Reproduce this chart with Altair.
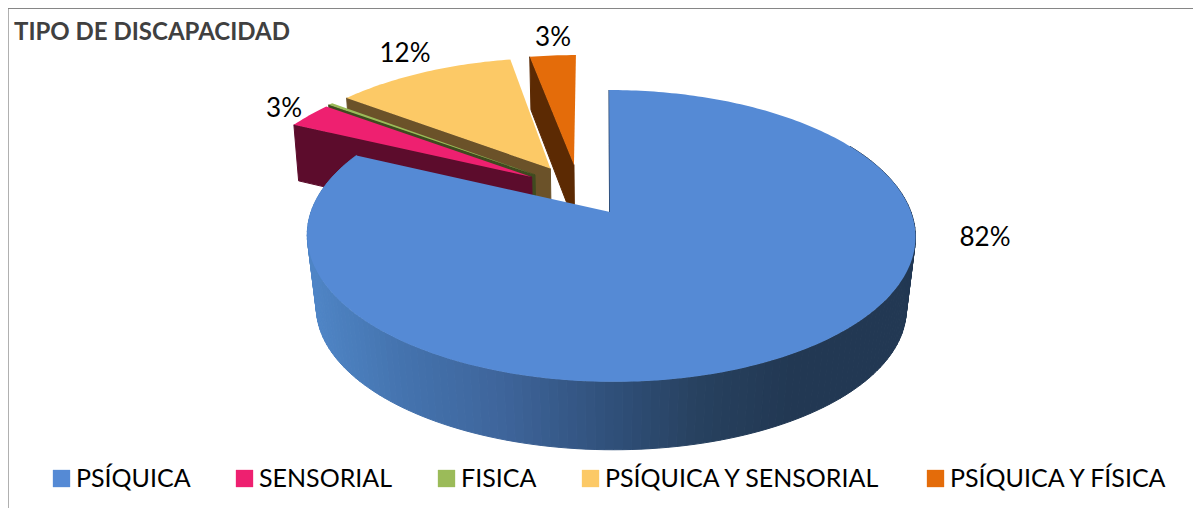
import math
import altair as alt
import pandas as pd

categories = ["PSÍQUICA", "SENSORIAL", "FISICA", "PSÍQUICA Y SENSORIAL", "PSÍQUICA Y FÍSICA"]
values = [82.0, 3.0, 0.3, 11.7, 3.0]
top_colors = ["#558ad5", "#ee2070", "#9bbb59", "#fcc966", "#e46c0a"]
wall_colors = ["#2c4a73", "#5c0c2c", "#3f4a1f", "#6b5229", "#5c2a03"]
label_centres = [(985, 238), (284, 109), None, (405, 54), (553, 38)]
side_stops = [(308, "#4f85c6"), (400, "#4473ae"), (500, "#3e659b"), (610, "#30507a"),
              (700, "#27415f"), (790, "#223853"), (920, "#223853")]

W, H = 1185, 500
XA, YA, A, B, K, SHEAR = 610.0, 212.0, 300.0, 142.0, 0.164, 2.0
EXPLODE = 0.19


def proj(u, v):
    d = 1 - K * v
    return (XA + (A * u + SHEAR * v) / d, YA + B * v / d)


def lower(u, v, near):
    x, y = proj(u, v)
    xr, yr = x - XA, y - YA
    if near:
        return (XA + 0.97 * xr, YA + 73 + 0.97 * yr)
    return (XA + 0.985 * xr, YA + yr + 60 + 0.045 * yr)


def lerp_hex(c1, c2, t):
    a = [int(c1[i:i + 2], 16) for i in (1, 3, 5)]
    b = [int(c2[i:i + 2], 16) for i in (1, 3, 5)]
    return "#" + "".join(f"{round(p + (q - p) * t):02x}" for p, q in zip(a, b))


def side_color(x):
    for (x0, c0), (x1, c1) in zip(side_stops, side_stops[1:]):
        if x <= x1:
            return lerp_hex(c0, c1, max(0.0, (x - x0) / (x1 - x0)))
    return side_stops[-1][1]


total = sum(values)
spans, acc = [], 0.0
for v in values:
    spans.append((acc / total * 360, (acc + v) / total * 360))
    acc += v


def direction(deg):
    r = math.radians(deg)
    return math.sin(r), -math.cos(r)


mu, mv = direction(sum(spans[0]) / 2)
cu, cv = -EXPLODE * mu - 0.005, -EXPLODE * mv
apexes = []
for s, e in spans:
    du, dv = direction((s + e) / 2)
    apexes.append((cu + EXPLODE * du, cv + EXPLODE * dv))
apexes[0] = (0.0, 0.0)
rim_shift = [0.0033, 0.008, 0.004, 0.0, -0.005]


def rows(poly_id, pts, **extra):
    return [dict(poly=poly_id, i=i, px=p[0] - 8, py=p[1] - 8, **extra) for i, p in enumerate(pts)]


x_enc = alt.X("px:Q", axis=None, scale=alt.Scale(domain=[0, W], nice=False, zero=False))
y_enc = alt.Y("py:Q", axis=None, scale=alt.Scale(domain=[H, 0], nice=False, zero=False))
color_scale = alt.Scale(domain=categories, range=top_colors)
legend = alt.Legend(title=None, orient="none", legendX=41, legendY=458, direction="horizontal",
                    columns=5, gridAlign="none", columnPadding=41, symbolType="square",
                    symbolSize=300, symbolStrokeWidth=0, symbolOpacity=1, labelFont="Lato",
                    labelFontSize=25, labelColor="#000000", labelOffset=2, labelLimit=500)

layers = []
for idx in [4, 3, 2, 1, 0]:
    s, e = spans[idx]
    au, av = apexes[idx]
    shift = rim_shift[idx]
    wall_rows = []
    su, sv = direction(s)
    ru, rv = au + su + shift, av + sv
    wall_rows += rows(f"edge{idx}",
                      [proj(au, av), proj(ru, rv), lower(ru, rv, False), lower(au, av, False), proj(au, av)],
                      shade=wall_colors[idx])
    if idx == 0:
        th = 60.0
        while th < e:
            n = min(th + 1.5, e)
            u0, v0 = direction(th)
            u1, v1 = direction(n)
            u0 += shift
            u1 += shift
            pts = [proj(u0, v0), proj(u1, v1), lower(u1, v1, True), lower(u0, v0, True), proj(u0, v0)]
            wall_rows += rows(f"side{th}", pts, shade=side_color((pts[0][0] + pts[1][0]) / 2))
            th = n
    layers.append(
        alt.Chart(pd.DataFrame(wall_rows)).mark_line(filled=True, strokeWidth=1).encode(
            x=x_enc, y=y_enc, detail="poly:N", order="i:Q",
            fill=alt.Fill("shade:N", scale=None, legend=None),
            stroke=alt.Stroke("shade:N", scale=None, legend=None),
        )
    )
    steps = max(3, int(e - s))
    pts = [proj(au, av)]
    for k in range(steps + 1):
        du, dv = direction(s + (e - s) * k / steps)
        pts.append(proj(au + du + shift, av + dv))
    pts.append(proj(au, av))
    layers.append(
        alt.Chart(pd.DataFrame(rows(f"top{idx}", pts, cat=categories[idx]))).mark_line(
            filled=True, strokeWidth=0).encode(
            x=x_enc, y=y_enc, detail="poly:N", order="i:Q",
            color=alt.Color("cat:N", scale=color_scale, legend=legend, sort=categories),
        )
    )

label_df = pd.DataFrame([
    dict(px=c[0] - 8, py=c[1] - 8, txt=f"{round(v)}%")
    for c, v in zip(label_centres, values) if c is not None
])
layers.append(
    alt.Chart(label_df).mark_text(font="Lato", fontSize=26, color="#000000", align="center",
                                  baseline="middle").encode(x=x_enc, y=y_enc, text="txt:N")
)
layers.append(alt.Chart(pd.DataFrame({"a": [0]})).mark_rule(color="#b0b0b0", strokeWidth=2).encode(
    x=alt.value(0), y=alt.value(0), y2=alt.value(H)))
layers.append(alt.Chart(pd.DataFrame({"a": [0]})).mark_rule(color="#868686", strokeWidth=2).encode(
    y=alt.value(0), x=alt.value(0), x2=alt.value(W)))

chart = alt.layer(*layers).properties(
    width=W, height=H, padding=0, autosize=alt.AutoSizeParams(type="none"),
    title=alt.Title("TIPO DE DISCAPACIDAD", anchor="start", font="Lato", fontSize=24,
                    fontWeight="bold", color="#404040", offset=-32, dx=7, dy=25, baseline="alphabetic"),
).configure_view(stroke=None)

chart.save("out.html", embed_options={"renderer": "svg", "actions": False})
